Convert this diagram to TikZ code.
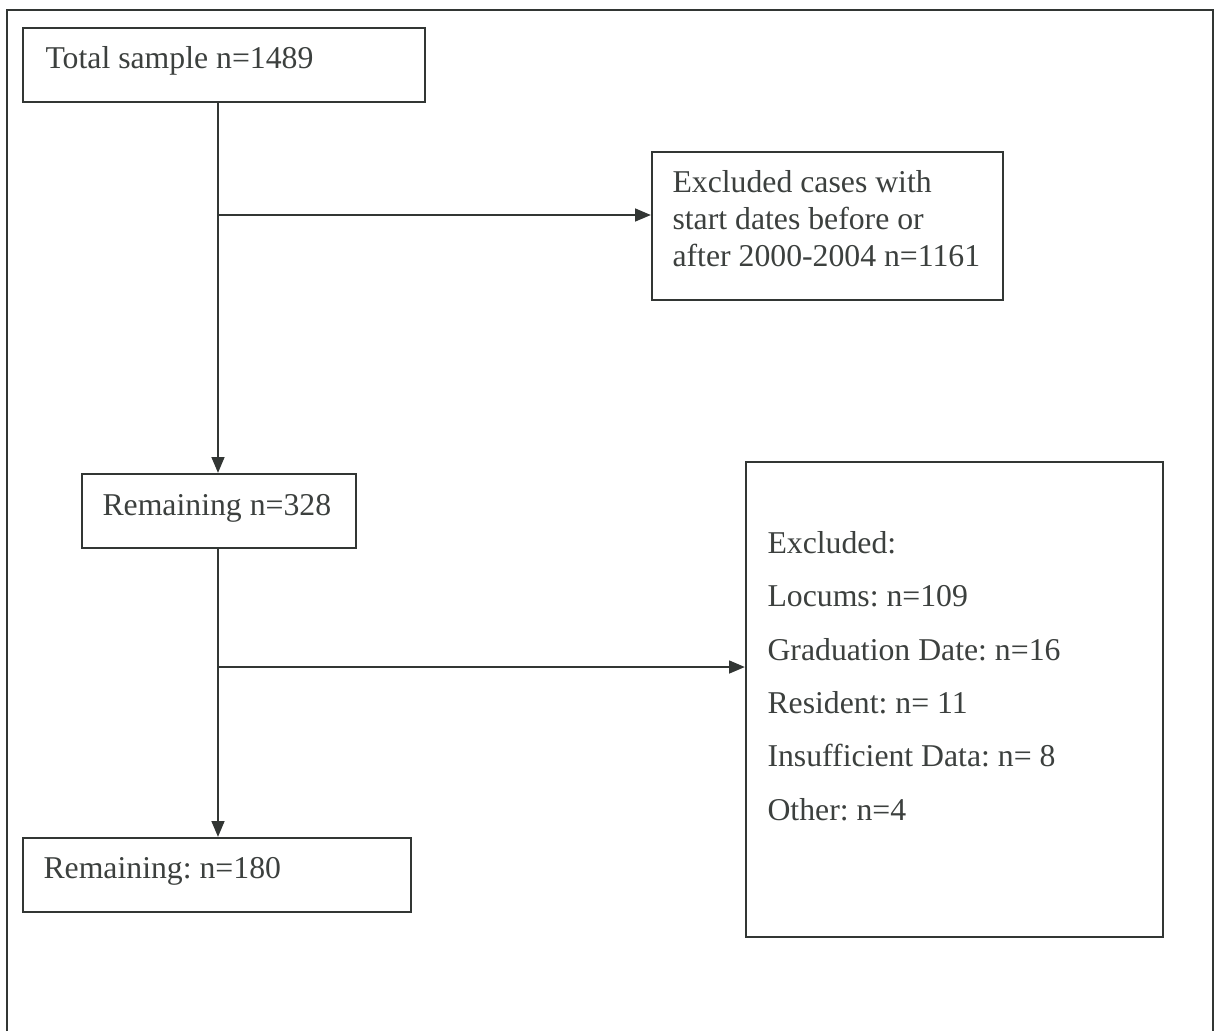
\documentclass[tikz,border=0pt]{standalone}
\usepackage{fontspec}
\setmainfont{Liberation Serif}
\usepackage{xcolor}
\definecolor{Ink}{HTML}{323634}
\colorlet{cLine}{Ink}
\colorlet{cText}{Ink!95!white}
\usetikzlibrary{calc, positioning, arrows.meta, fit}
\frenchspacing
\tikzset{
	line width = .75pt,
	>={Triangle[length=6pt, width=4.8pt]},
	font = \fontsize{12}{13.8}\selectfont,
	box/.style={
		draw=cLine,
		rectangle,
		line width=.8pt,
		inner sep=0pt
	},
	boxtext/.style={
		anchor=base west,
		align=left,
		inner sep=0pt,
		text=cText
	},
	flow/.style={
		->,
		draw=cLine,
		line width=.9pt
	},
	frame/.style={
		draw=cLine,
		line width=1pt
	}
}

\begin{document}
\begin{tikzpicture}[x=0.378pt, y=-0.378pt]
        \useasboundingbox (0,0) rectangle (1215,1031);
        \draw[frame] (7,1031) -- (7,10) -- (1213,10) -- (1213,1031);

        \node (total) [box, fit={(23,28) (425,102)}] {};
        \node (excl1) [box, fit={(652,152) (1003,300)}] {};
        \node (rem1) [box, fit={(82,474) (356,548)}] {};
        \node (rem2) [box, fit={(23,838) (411,912)}] {};
        \node (excl2) [box, fit={(746,462) (1163,937)}] {};

        % multi-line texts sit on the baseline of their last line
        \node (totaltxt) [boxtext] at (45,68) {Total sample n=1489};
        \node (excl1txt) [boxtext] at (672,266) {Excluded cases with\\start dates before or\\after 2000-2004 n=1161};
        \node (rem1txt) [boxtext] at (102,515) {Remaining n=328};
        \node (rem2txt) [boxtext] at (43,878) {Remaining: n=180};
        \node (excl2txt) [boxtext, font=\fontsize{12}{20.15}\selectfont] at (767,820)
            {Excluded:\\Locums: n=109\\Graduation Date: n=16\\Resident: n=~11\\Insufficient Data: n=~8\\Other: n=4};

        \coordinate (split1) at (218,215);
        \coordinate (split2) at (218,667);

        \draw[flow] (total.south -| split1) -- (rem1.north -| split1);
        \draw[flow] (split1) -- (excl1.west |- split1);
        \draw[flow] (rem1.south -| split2) -- (rem2.north -| split2);
        \draw[flow] (split2) -- (excl2.west |- split2);
    \end{tikzpicture}
\end{document}
